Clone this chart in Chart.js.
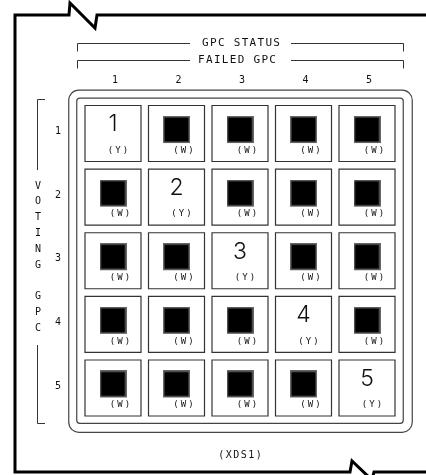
<!DOCTYPE html>
<html>
<head>
<meta charset="utf-8">
<script src="https://cdn.jsdelivr.net/npm/chart.js@4.4.1/dist/chart.umd.min.js"></script>
<style>
  html, body { margin: 0; padding: 0; background: #fff; }
  #wrap { width: 426px; height: 475px; }
</style>
</head>
<body>
<div id="wrap"><canvas id="gpcChart" width="426" height="475"></canvas></div>
<script>
// failed GPC columns (top) and voting GPC rows (left)
const failedGpc = ["1", "2", "3", "4", "5"];
const votingGpc = ["1", "2", "3", "4", "5"];
// status per voting row, per failed-gpc column
const statusRow1 = ["Y", "W", "W", "W", "W"];
const statusRow2 = ["W", "Y", "W", "W", "W"];
const statusRow3 = ["W", "W", "Y", "W", "W"];
const statusRow4 = ["W", "W", "W", "Y", "W"];
const statusRow5 = ["W", "W", "W", "W", "Y"];
const headerTitles = ["GPC STATUS", "FAILED GPC"];
const sideTitle = "VOTING GPC";
const footerTitle = "(XDS1)";

const statusRows = [statusRow1, statusRow2, statusRow3, statusRow4, statusRow5];

const allCells = [];
const failedCells = [];
statusRows.forEach((row, r) => {
  row.forEach((s, c) => {
    const p = { x: c + 1, y: r + 1, s: s };
    allCells.push(p);
    if (s === "W") failedCells.push(p);
  });
});

// black square marker, drawn a bit above the point
function squareMarker() {
  const cv = document.createElement("canvas");
  cv.width = 27;
  cv.height = 35;
  const c = cv.getContext("2d");
  c.fillStyle = "#666";
  c.fillRect(0, 0, 27, 27);
  c.fillStyle = "#000";
  c.fillRect(1.5, 1.5, 24, 24);
  return cv;
}

const MONO = "'DejaVu Sans Mono', monospace";

function txt(ctx, s, x, y, size, spacing, family) {
  ctx.font = (family ? "300 " : "") + size + "px " + (family || MONO);
  ctx.letterSpacing = (spacing || 0) + "px";
  ctx.fillText(s, x + (spacing || 0) / 2, y);
}

const diagram = {
  id: "diagram",
  beforeDraw(chart) {
    const ctx = chart.ctx;
    ctx.save();
    ctx.fillStyle = "#fff";
    ctx.fillRect(0, 0, chart.width, chart.height);

    // inner double frame around the matrix
    const a = chart.chartArea;
    ctx.strokeStyle = "#444";
    ctx.lineWidth = 1.2;
    ctx.beginPath();
    ctx.roundRect(a.left - 12.5, a.top - 11.5, a.width + 26, a.height + 24, 10);
    ctx.stroke();
    ctx.beginPath();
    ctx.roundRect(a.left - 4.5, a.top - 3.5, a.width + 9, a.height + 7, 3);
    ctx.stroke();
    ctx.restore();
  },
  afterDatasetsDraw(chart) {
    const ctx = chart.ctx;
    const xs = chart.scales.x;
    const ys = chart.scales.y;
    ctx.save();

    // outer page frame with break marks
    ctx.strokeStyle = "#000";
    ctx.lineWidth = 3;
    ctx.lineJoin = "miter";
    ctx.beginPath();
    ctx.moveTo(430, 15);
    ctx.lineTo(97, 15);
    ctx.lineTo(95, 28);
    ctx.lineTo(70, 3);
    ctx.lineTo(69, 15);
    ctx.lineTo(15, 15);
    ctx.lineTo(15, 472);
    ctx.lineTo(350, 472);
    ctx.lineTo(352, 461);
    ctx.lineTo(372, 480);
    ctx.lineTo(374, 472);
    ctx.lineTo(430, 472);
    ctx.stroke();

    ctx.fillStyle = "#111";
    ctx.textAlign = "center";
    ctx.textBaseline = "middle";

    // header brackets
    ctx.strokeStyle = "#333";
    ctx.lineWidth = 1;
    [43.5, 60.5].forEach((y, i) => {
      ctx.beginPath();
      ctx.moveTo(77.5, y + 8);
      ctx.lineTo(77.5, y);
      ctx.lineTo(190, y);
      ctx.moveTo(291, y);
      ctx.lineTo(403.5, y);
      ctx.lineTo(403.5, y + 8);
      ctx.stroke();
      txt(ctx, headerTitles[i], i === 0 ? 241 : 237, y, 11, 1.3);
    });

    // column numbers
    failedGpc.forEach((lab, i) => {
      txt(ctx, lab, xs.getPixelForValue(i + 1) + 2, 80, 10, 0);
    });
    // row numbers
    votingGpc.forEach((lab, i) => {
      txt(ctx, lab, 58, ys.getPixelForValue(i + 1) - 2, 10, 0);
    });

    // side bracket and vertical title
    ctx.beginPath();
    ctx.moveTo(45, 99.5);
    ctx.lineTo(37.5, 99.5);
    ctx.lineTo(37.5, 170);
    ctx.moveTo(37.5, 345);
    ctx.lineTo(37.5, 423.5);
    ctx.lineTo(45, 423.5);
    ctx.stroke();
    sideTitle.split("").forEach((ch, i) => {
      if (ch !== " ") txt(ctx, ch, 38, 186 + i * 15.8, 10, 0);
    });

    // cell texts
    allCells.forEach(p => {
      const cx = xs.getPixelForValue(p.x);
      const cy = ys.getPixelForValue(p.y);
      if (p.s === "Y") {
        ctx.fillStyle = "#111";
        txt(ctx, votingGpc[p.y - 1], cx, cy - 9, 23, 0, "Inter");
        txt(ctx, "(Y)", cx + 5, cy + 17, 9, 2);
      } else {
        txt(ctx, "(W)", cx + 7, cy + 17, 9, 2);
      }
    });

    txt(ctx, footerTitle, 240, 455, 10, 1.5);
    ctx.restore();
  }
};

new Chart(document.getElementById("gpcChart"), {
  type: "scatter",
  data: {
    datasets: [
      {
        label: "Failed",
        data: failedCells,
        pointStyle: squareMarker(),
        order: 0,
      },
      {
        label: "Cells",
        data: allCells,
        pointStyle: "rect",
        pointRadius: 39.6,
        pointBackgroundColor: "#fff",
        pointBorderColor: "#333",
        pointBorderWidth: 1.2,
        order: 1,
      },
    ],
  },
  options: {
    responsive: false,
    animation: false,
    events: [],
    layout: {
      autoPadding: false,
      padding: { left: 81.25, right: 27.25, top: 101.7, bottom: 55.2 },
    },
    plugins: {
      legend: { display: false },
      tooltip: { enabled: false },
    },
    scales: {
      x: { type: "linear", min: 0.5, max: 5.5, display: false },
      y: { type: "linear", min: 0.5, max: 5.5, reverse: true, display: false },
    },
  },
  plugins: [diagram],
});
</script>
</body>
</html>
